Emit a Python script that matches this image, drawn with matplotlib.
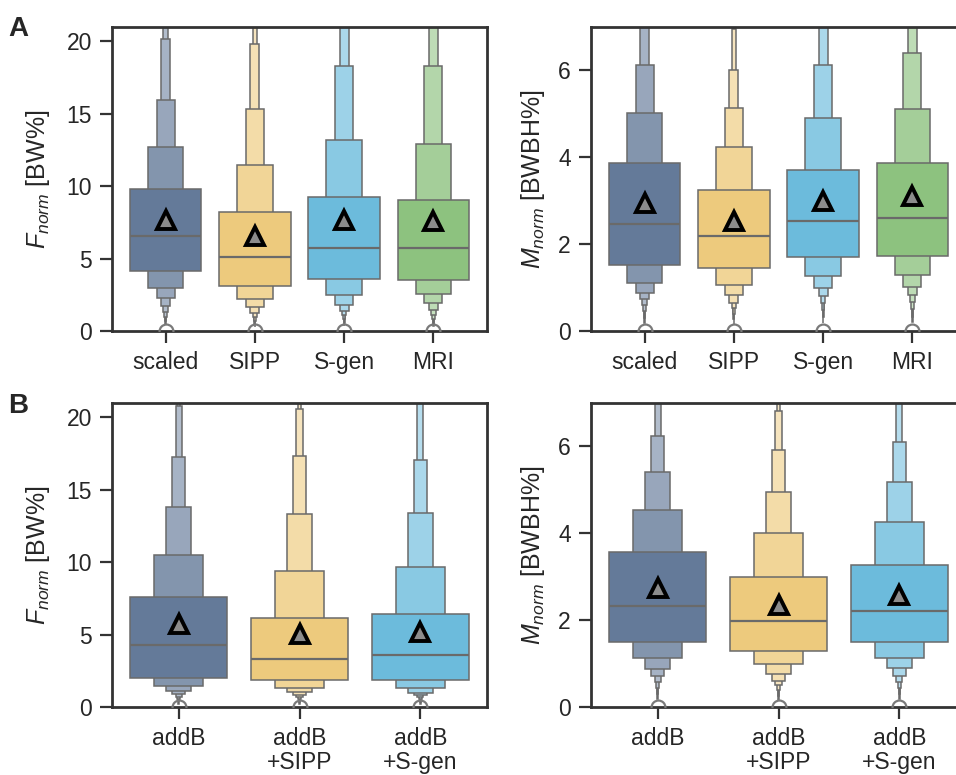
import numpy as np
import matplotlib
matplotlib.use("Agg")
import matplotlib.pyplot as plt
from matplotlib.colors import to_rgb

plt.rcParams['font.family'] = ['Liberation Sans', 'DejaVu Sans']
plt.rcParams['mathtext.fontset'] = 'custom'
plt.rcParams['mathtext.rm'] = 'Liberation Sans'
plt.rcParams['mathtext.it'] = 'Liberation Sans:italic'

# category labels
cats_A = ['scaled', 'SIPP', 'S-gen', 'MRI']
cats_B = ['addB', 'addB\n+SIPP', 'addB\n+S-gen']

# base colours (widest box)
cols_A = ['#647a99', '#edca7d', '#6cbbdc', '#8dc27f']
cols_B = ['#647a99', '#edca7d', '#6cbbdc']

# letter values: lower / upper edge of each level (widest first)
F_A_lo = [[4.16, 2.96, 2.26, 1.73, 1.34, 1.00, 0.70, 0.45],
          [3.14, 2.22, 1.64, 1.25, 0.98, 0.72, 0.50, 0.30],
          [3.60, 2.47, 1.80, 1.39, 1.08, 0.80, 0.55, 0.35],
          [3.55, 2.55, 1.90, 1.45, 1.10, 0.82, 0.56, 0.35]]
F_A_hi = [[9.82, 12.70, 15.94, 20.17, 24, 28, 32, 36],
          [8.22, 11.48, 15.31, 19.82, 23, 27, 31, 35],
          [9.24, 13.19, 18.32, 23, 27, 31, 35, 39],
          [9.05, 12.90, 18.30, 23, 27, 31, 35, 39]]
F_A_med = [6.54, 5.13, 5.73, 5.70]
F_A_mean = [7.70, 6.54, 7.69, 7.62]
F_A_out = [0, 0, 0, 0]

M_A_lo = [[1.52, 1.11, 0.88, 0.73, 0.60, 0.45, 0.30, 0.18],
          [1.44, 1.06, 0.82, 0.65, 0.52, 0.40, 0.27, 0.15],
          [1.70, 1.27, 1.00, 0.80, 0.65, 0.48, 0.32, 0.18],
          [1.73, 1.30, 1.02, 0.83, 0.66, 0.50, 0.33, 0.20]]
M_A_hi = [[3.86, 5.03, 6.13, 7.5, 8.5, 9.5, 10.5, 11.5],
          [3.25, 4.24, 5.13, 6.02, 6.95, 8.0, 9.0, 10.0],
          [3.71, 4.91, 6.12, 7.5, 8.5, 9.5, 10.5, 11.5],
          [3.86, 5.11, 6.41, 7.5, 8.5, 9.5, 10.5, 11.5]]
M_A_med = [2.47, 2.19, 2.54, 2.61]
M_A_mean = [2.95, 2.53, 2.99, 3.10]
M_A_out = [0, 0, 0, 0]

F_B_lo = [[2.03, 1.43, 1.09, 0.88, 0.72, 0.55, 0.38, 0.22],
          [1.85, 1.34, 1.02, 0.85, 0.70, 0.53, 0.36, 0.20],
          [1.89, 1.34, 1.00, 0.85, 0.70, 0.53, 0.36, 0.20]]
F_B_hi = [[7.57, 10.50, 13.80, 17.26, 20.8, 25, 29, 33],
          [6.14, 9.39, 13.36, 17.33, 20.6, 25, 29, 33],
          [6.44, 9.69, 13.38, 17.07, 22, 26, 30, 34]]
F_B_med = [4.29, 3.32, 3.58]
F_B_mean = [5.70, 5.01, 5.19]
F_B_out = [0, 0, 0]

M_B_lo = [[1.49, 1.12, 0.88, 0.71, 0.58, 0.44, 0.30, 0.18],
          [1.30, 0.98, 0.77, 0.61, 0.50, 0.38, 0.26, 0.15],
          [1.49, 1.12, 0.89, 0.72, 0.58, 0.44, 0.30, 0.18]]
M_B_hi = [[3.56, 4.54, 5.42, 6.23, 7.5, 8.5, 9.5, 10.5],
          [2.99, 4.00, 4.96, 5.92, 6.81, 8.0, 9.0, 10.0],
          [3.27, 4.25, 5.18, 6.10, 7.5, 8.5, 9.5, 10.5]]
M_B_med = [2.32, 1.98, 2.22]
M_B_mean = [2.73, 2.36, 2.58]
M_B_out = [0, 0, 0]

EDGE = '#6a6a6a'
DARK = '#333333'
FS = 16.5


def lighten(c, f):
    r = np.array(to_rgb(c))
    return tuple(r * (1 - f) + f)


def boxen_panel(ax, cats, cols, lo, hi, med, mean, out):
    pos = np.arange(len(cats))
    for k in range(len(cats)):
        n = len(lo[k])
        # narrowest first so wider boxes sit on top
        for i in range(n - 1, -1, -1):
            w = 0.8 * 0.5 ** i
            ax.bar(pos[k], hi[k][i] - lo[k][i], width=w, bottom=lo[k][i],
                   color=lighten(cols[k], i / (i + 4.0)), edgecolor=EDGE,
                   linewidth=1.1, zorder=2 + (n - i) * 0.01)
        ax.plot([pos[k] - 0.4, pos[k] + 0.4], [med[k], med[k]], color=EDGE,
                lw=1.6, zorder=3, solid_capstyle='butt')
        ax.plot(pos[k], out[k], 'o', mfc='none', mec='#7a7a7a', ms=10, mew=1.6, zorder=3)
        ax.plot(pos[k], mean[k], '^', mfc='#8c8c8c', mec='black', ms=13, mew=2.8, zorder=4)
    ax.set_xticks(pos)
    ax.set_xticklabels(cats, linespacing=1.05)
    if len(cats) == 4:
        ax.set_xlim(-0.6, 3.6)
    else:
        ax.set_xlim(-0.55, 2.55)
    for s in ax.spines.values():
        s.set_linewidth(2.0)
        s.set_color(DARK)
    ax.tick_params(axis='both', length=8.5, width=1.6, color=DARK, labelsize=FS,
                   labelcolor='#262626', pad=6)


fig = plt.figure(figsize=(9.56, 7.75), dpi=100)
W = 375 / 956
axA1 = fig.add_axes([112 / 956, 1 - 331 / 775, W, 304 / 775])
axA2 = fig.add_axes([591 / 956, 1 - 331 / 775, W, 304 / 775])
axB1 = fig.add_axes([112 / 956, 1 - 707 / 775, W, 304 / 775])
axB2 = fig.add_axes([591 / 956, 1 - 707 / 775, W, 304 / 775])

boxen_panel(axA1, cats_A, cols_A, F_A_lo, F_A_hi, F_A_med, F_A_mean, F_A_out)
boxen_panel(axA2, cats_A, cols_A, M_A_lo, M_A_hi, M_A_med, M_A_mean, M_A_out)
boxen_panel(axB1, cats_B, cols_B, F_B_lo, F_B_hi, F_B_med, F_B_mean, F_B_out)
boxen_panel(axB2, cats_B, cols_B, M_B_lo, M_B_hi, M_B_med, M_B_mean, M_B_out)

for ax in (axA1, axB1):
    ax.set_ylim(0, 21)
    ax.set_yticks([0, 5, 10, 15, 20])
    ax.set_ylabel(r'$F_{norm}$ [BW%]', fontsize=18, color='#262626')
    ax.yaxis.set_label_coords(-0.16, 0.5)
for ax in (axA2, axB2):
    ax.set_ylim(0, 7)
    ax.set_yticks([0, 2, 4, 6])
    ax.set_ylabel(r'$M_{norm}$ [BWBH%]', fontsize=18, color='#262626')
    ax.yaxis.set_label_coords(-0.118, 0.5)

fig.text(8 / 956, 1 - 36 / 775, 'A', fontsize=20, fontweight='bold', color='#262626')
fig.text(8 / 956, 1 - 413 / 775, 'B', fontsize=20, fontweight='bold', color='#262626')

fig.savefig('out.png', dpi=100)
